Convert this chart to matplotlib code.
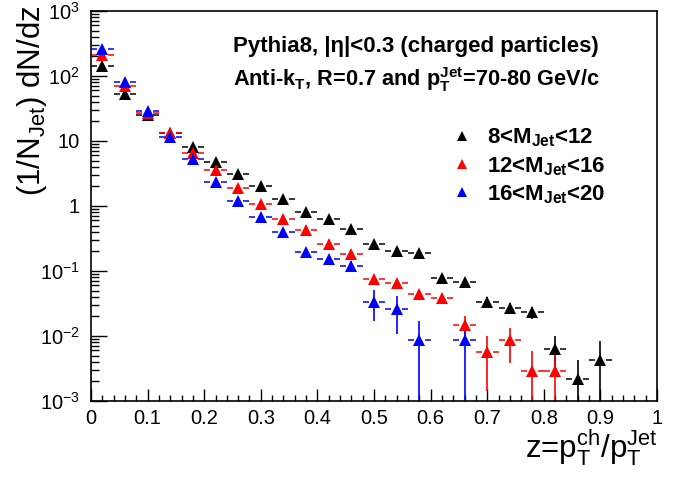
import numpy as np
import matplotlib
matplotlib.use("Agg")
import matplotlib.pyplot as plt
from matplotlib.ticker import FixedLocator, LogLocator, MultipleLocator, NullFormatter
from matplotlib.lines import Line2D

plt.rcParams['font.family'] = ['Liberation Sans', 'DejaVu Sans']
plt.rcParams['mathtext.fontset'] = 'custom'
plt.rcParams['mathtext.rm'] = 'Liberation Sans'
plt.rcParams['mathtext.bf'] = 'Liberation Sans:bold'
plt.rcParams['mathtext.it'] = 'Liberation Sans:italic'

# bin centres (width 0.04)
z_black = [0.02, 0.06, 0.10, 0.14, 0.18, 0.22, 0.26, 0.30, 0.34, 0.38, 0.42, 0.46,
           0.50, 0.54, 0.58, 0.62, 0.66, 0.70, 0.74, 0.78, 0.82, 0.86, 0.90]
y_black = [144, 53, 25, 13.2, 8.1, 4.8, 3.07, 2.03, 1.30, 0.81, 0.62, 0.45,
           0.257, 0.205, 0.191, 0.079, 0.068, 0.0337, 0.0272, 0.0234, 0.0064, 0.00216, 0.0043]
e_black = [3, 1.5, 0.8, 0.4, 0.25, 0.15, 0.1, 0.07, 0.05, 0.04, 0.03, 0.03,
           0.02, 0.02, 0.02, 0.01, 0.01, 0.006, 0.005, 0.005, 0.0036, 0.0021, 0.0040]

z_red = [0.02, 0.06, 0.10, 0.14, 0.18, 0.22, 0.26, 0.30, 0.34, 0.38, 0.42, 0.46,
         0.50, 0.54, 0.58, 0.62, 0.66, 0.70, 0.74, 0.78, 0.82]
y_red = [210, 70, 27, 13.4, 6.5, 3.6, 1.91, 1.06, 0.63, 0.43, 0.26, 0.183,
         0.0745, 0.0645, 0.0438, 0.039, 0.0146, 0.0057, 0.0086, 0.0029, 0.0029]
e_red = [5, 2, 0.9, 0.5, 0.25, 0.15, 0.08, 0.05, 0.04, 0.03, 0.02, 0.02,
         0.008, 0.008, 0.006, 0.006, 0.006, 0.0043, 0.0048, 0.0029, 0.0029]

z_blue = [0.02, 0.06, 0.10, 0.14, 0.18, 0.22, 0.26, 0.30, 0.34, 0.38, 0.42, 0.46,
          0.50, 0.54, 0.58, 0.66]
y_blue = [257, 82, 29, 11.6, 5.2, 2.34, 1.21, 0.685, 0.40, 0.196, 0.155, 0.121,
          0.0338, 0.0257, 0.0086, 0.0086]
e_blue = [6, 2.5, 1.0, 0.5, 0.3, 0.15, 0.1, 0.06, 0.04, 0.02, 0.02, 0.02,
          0.017, 0.015, 0.0086, 0.0086]

series = [
    (z_black, y_black, e_black, 'black', r'8<M$_{\mathbf{Jet}}$<12'),
    (z_red, y_red, e_red, 'red', r'12<M$_{\mathbf{Jet}}$<16'),
    (z_blue, y_blue, e_blue, 'blue', r'16<M$_{\mathbf{Jet}}$<20'),
]

half_bin = 0.02
gap = 0.0094  # space left around the marker

fig = plt.figure(figsize=(6.87, 4.8), dpi=100)
ax = fig.add_axes([0.1325, 0.1646, 0.8238, 0.8125])
ax.set_yscale('log')
ax.set_xlim(0, 1)
ax.set_ylim(1e-3, 1e3)

handles = []
for z, y, e, c, lab in series:
    z = np.array(z)
    y = np.array(y)
    e = np.array(e)
    lo = np.maximum(y - e, 1e-4)
    ax.vlines(z, lo, y + e, color=c, lw=1.2, zorder=2)
    ax.hlines(y, z - half_bin, z - gap, color=c, lw=1.1, zorder=2)
    ax.hlines(y, z + gap, z + half_bin, color=c, lw=1.1, zorder=2)
    ax.plot(z, y, '^', color=c, ms=8.5, mew=0, zorder=3)
    handles.append(Line2D([], [], marker='^', color=c, ls='none', ms=7.5, mew=0, label=lab))

# axis ticks, ROOT look
ax.xaxis.set_minor_locator(MultipleLocator(0.02))
ax.set_xticks(np.arange(0, 1.01, 0.1))
ax.set_xticklabels(['0', '0.1', '0.2', '0.3', '0.4', '0.5', '0.6', '0.7', '0.8', '0.9', '1'])
ax.yaxis.set_major_locator(FixedLocator([1e-3, 1e-2, 1e-1, 1, 10, 1e2, 1e3]))
ax.set_yticklabels([r'$10^{-3}$', r'$10^{-2}$', r'$10^{-1}$', '1', '10', r'$10^{2}$', r'$10^{3}$'])
ax.yaxis.set_minor_locator(LogLocator(base=10, subs=np.arange(2, 10), numticks=20))
ax.yaxis.set_minor_formatter(NullFormatter())
ax.tick_params(which='both', direction='in', top=False, right=False, labelsize=14.5, width=1)
ax.tick_params(axis='x', which='major', length=9, pad=6)
ax.tick_params(axis='x', which='minor', length=4.5)
ax.tick_params(axis='y', which='major', length=11.5, pad=8)
ax.tick_params(axis='y', which='minor', length=5.5)
for s in ax.spines.values():
    s.set_linewidth(1.2)

ax.set_xlabel(r'z=p$_{\mathrm{T}}^{\mathrm{ch}}$/p$_{\mathrm{T}}^{\mathrm{Jet}}$', fontsize=22.5, loc='right')
ax.xaxis.set_label_coords(1.002, -0.068)
ax.set_ylabel(r'(1/N$_{\mathrm{Jet}}$) dN/dz', fontsize=22.5, loc='top')
ax.yaxis.set_label_coords(-0.075, 1.015)

ax.text(0.25, 0.91, r'Pythia8, |η|<0.3 (charged particles)', transform=ax.transAxes,
        fontsize=16, fontweight='bold', ha='left', va='center')
ax.text(0.25, 0.823, r'Anti-k$_{\mathbf{T}}$, R=0.7 and p$_{\mathbf{T}}^{\mathbf{Jet}}$=70-80 GeV/c',
        transform=ax.transAxes, fontsize=15.7, fontweight='bold', ha='left', va='center')

leg = ax.legend(handles=handles, loc='upper left', bbox_to_anchor=(0.636, 0.703), frameon=False,
                fontsize=16, handlelength=1.0, handletextpad=0.64, labelspacing=0.25,
                borderaxespad=0, borderpad=0)
for t in leg.get_texts():
    t.set_fontweight('bold')

fig.savefig('out.png', dpi=100)
